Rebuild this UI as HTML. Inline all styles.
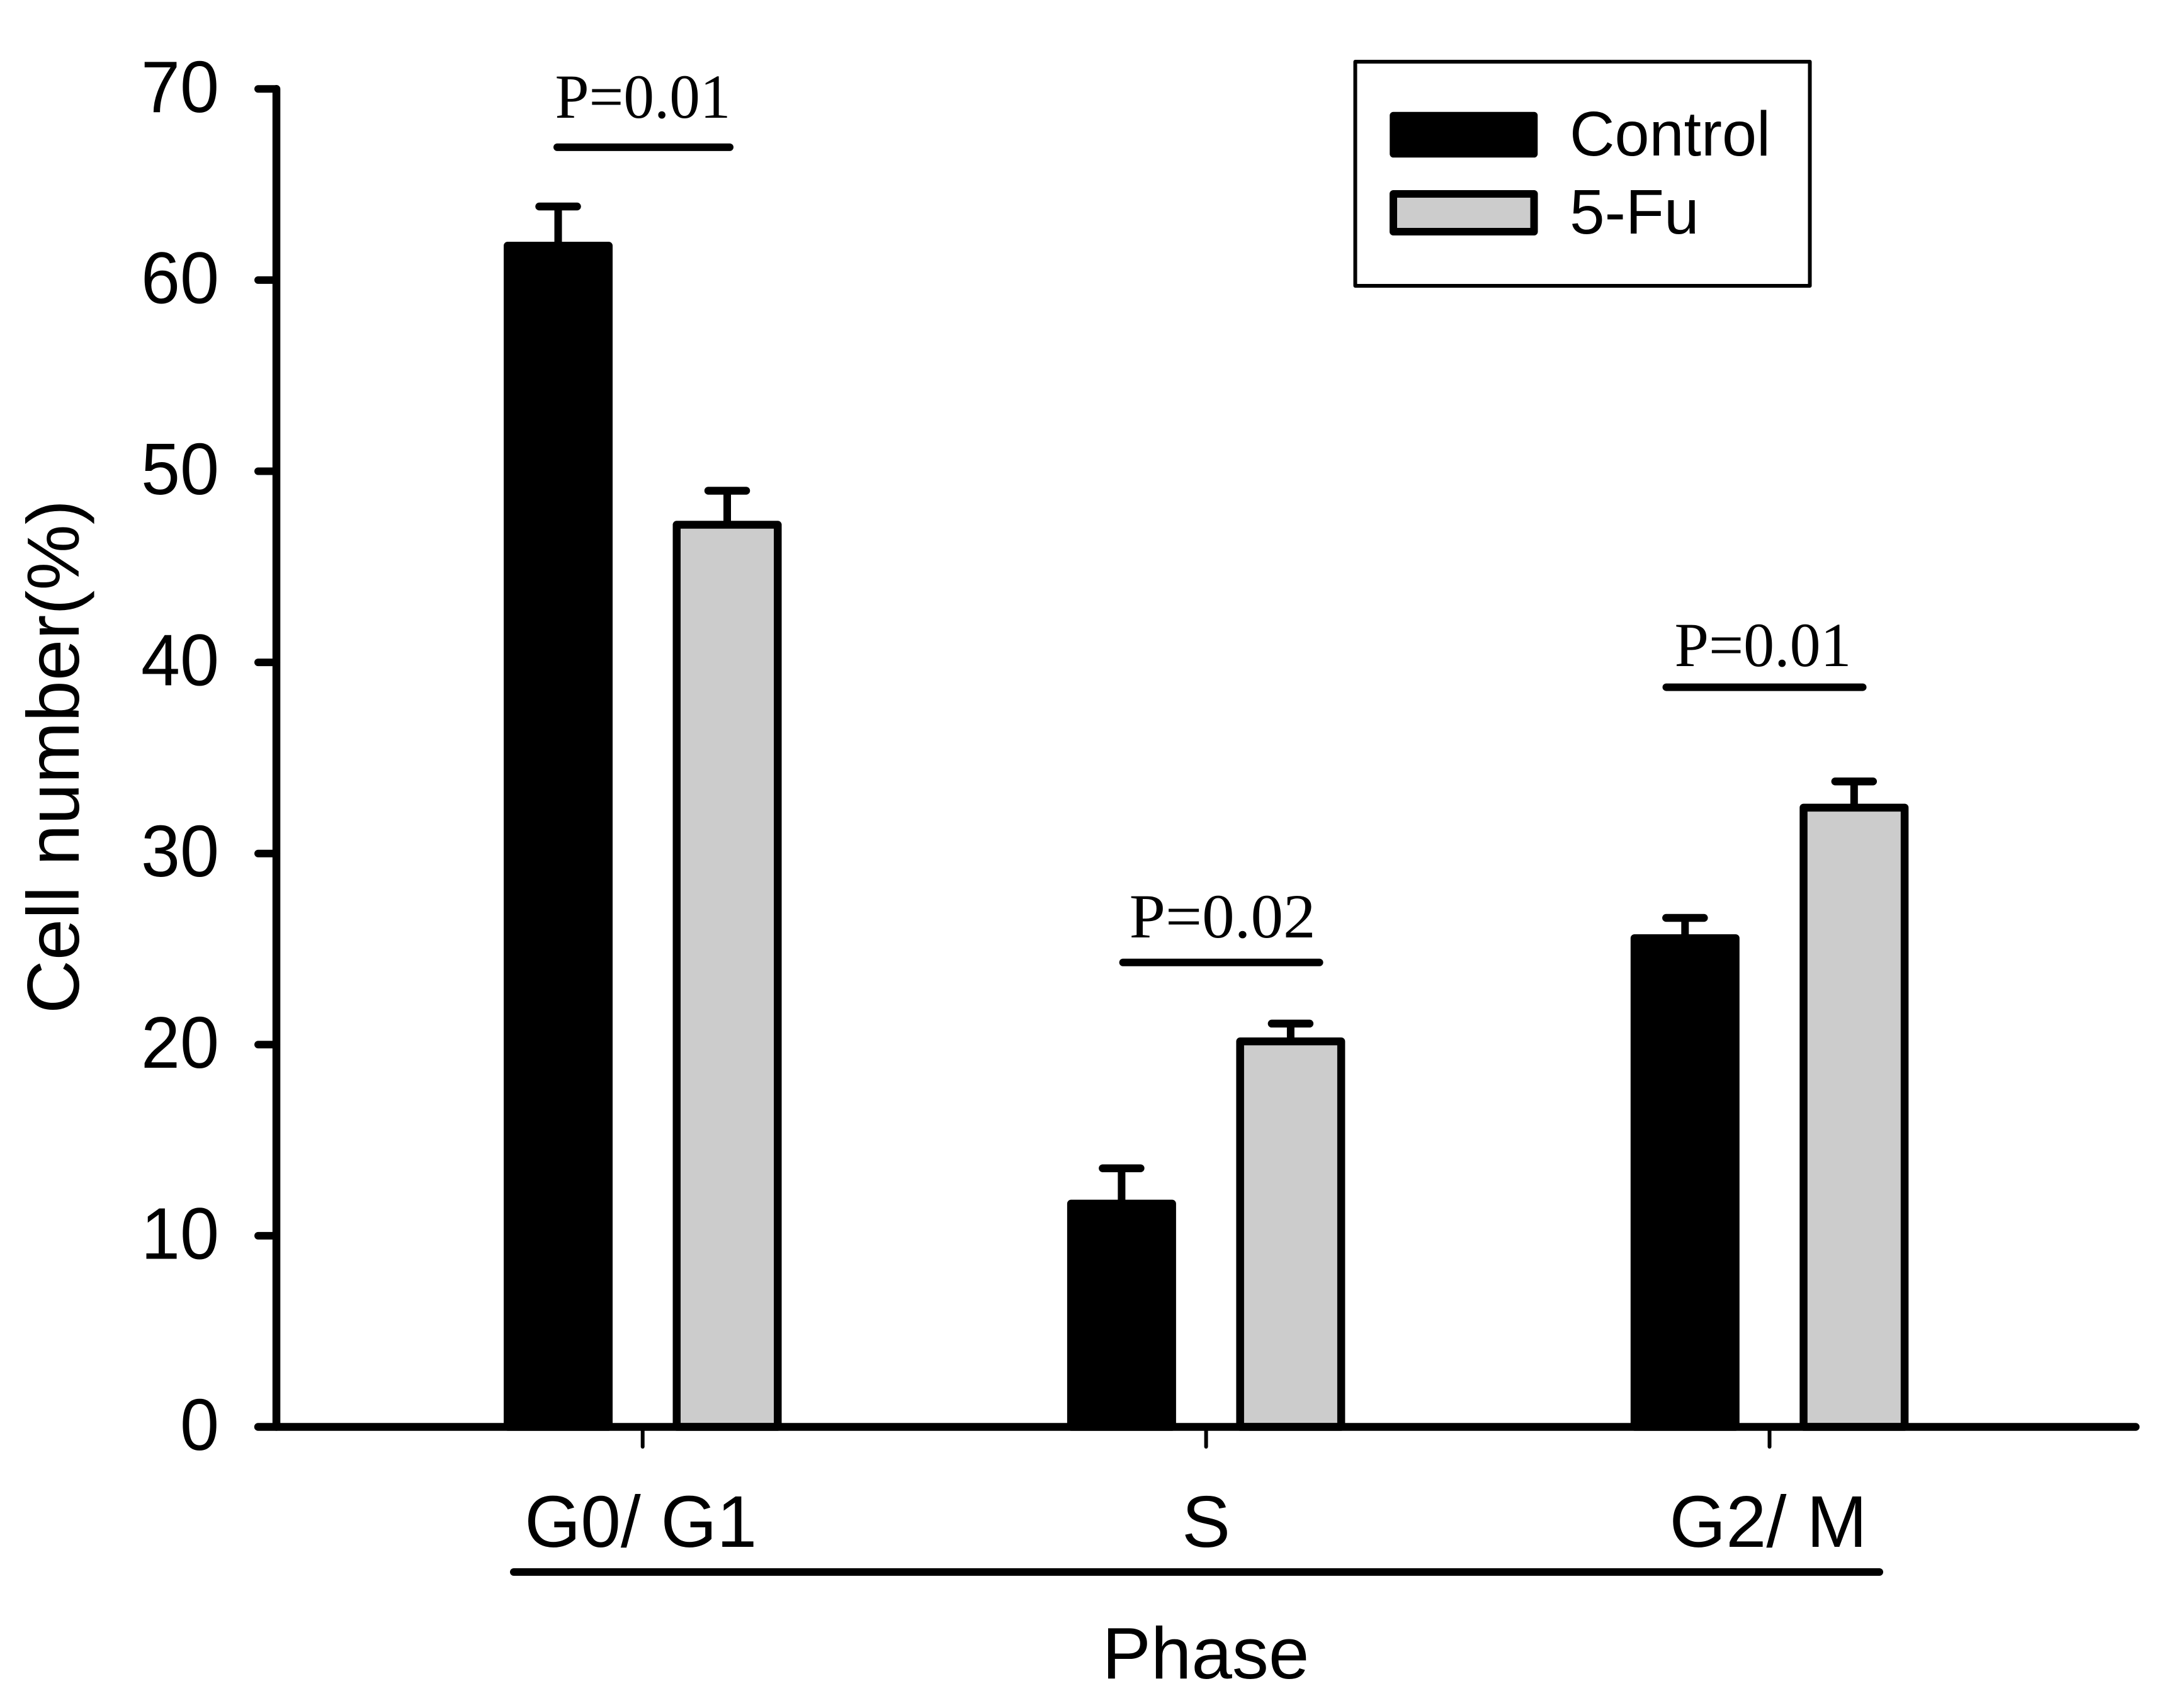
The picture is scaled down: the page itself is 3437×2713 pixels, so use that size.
<!DOCTYPE html>
<html lang="en">
<head>
<meta charset="utf-8">
<title>Cell number by phase</title>
<style>
html,body{margin:0;padding:0;background:#fff;width:3437px;height:2713px;overflow:hidden}
svg{display:block;position:absolute;left:0;top:0}
text{fill:#000;font-family:"Liberation Sans",sans-serif}
.serif{font-family:"Liberation Serif",serif;font-size:100px}
</style>
</head>
<body>
<svg id="chart" xmlns="http://www.w3.org/2000/svg" width="3437" height="2713" viewBox="0 0 3437 2713">
  <rect x="0" y="0" width="3437" height="2713" fill="#fff"/>
  <g id="bars"></g>
  <g id="axes"></g>
  <g id="annotations"></g>

  <text x="0" y="0" font-size="117" text-anchor="middle" textLength="816" lengthAdjust="spacingAndGlyphs" transform="translate(125,1202) rotate(-90)">Cell number(%)</text>

  <line x1="816" y1="2497" x2="2985" y2="2497" stroke="#000" stroke-width="12" stroke-linecap="round"/>
  <text x="1915" y="2666" font-size="116" text-anchor="middle">Phase</text>

  <g>
    <rect x="2152.5" y="98" width="722" height="356" fill="#fff" stroke="#000" stroke-width="6" stroke-linejoin="round"/>
    <rect x="2213" y="183.5" width="223.5" height="61" fill="#000" stroke="#000" stroke-width="11.5" stroke-linejoin="round"/>
    <text x="2493" y="247" font-size="100" textLength="319" lengthAdjust="spacingAndGlyphs">Control</text>
    <rect x="2213" y="308" width="223.5" height="60" fill="#cccccc" stroke="#000" stroke-width="12" stroke-linejoin="round"/>
    <text x="2493" y="371" font-size="100">5-Fu</text>
  </g>
</svg>
<script>
const categories = ["G0/ G1", "S", "G2/ M"];
const controlValues = [61.8, 11.68, 25.57];
const controlErrors = [2.05, 1.85, 1.06];
const fuValues = [47.2, 20.17, 32.4];
const fuErrors = [1.78, 0.93, 1.37];
const yTickValues = [0, 10, 20, 30, 40, 50, 60, 70];
const yTickLabels = ["0", "10", "20", "30", "40", "50", "60", "70"];
const pLabels = ["P=0.01", "P=0.02", "P=0.01"];
const pLineLevels = [66.95, 24.3, 38.7];
const pTextLevels = [68.5, 25.61, 39.8];

const NS = "http://www.w3.org/2000/svg";
function yScale(v) { return 2266.5 - v * 30.36; }
function xScale(i) { return 1020.7 + 894.9 * i; }

function makeLine(parent, x1, y1, x2, y2, w, cap) {
  const el = document.createElementNS(NS, "line");
  el.setAttribute("x1", x1);
  el.setAttribute("y1", y1);
  el.setAttribute("x2", x2);
  el.setAttribute("y2", y2);
  el.setAttribute("stroke", "#000");
  el.setAttribute("stroke-width", w);
  el.setAttribute("stroke-linecap", cap || "round");
  parent.appendChild(el);
  return el;
}
function makeText(parent, str, x, y, size, anchor, cls) {
  const el = document.createElementNS(NS, "text");
  el.setAttribute("x", x);
  el.setAttribute("y", y);
  if (size) el.setAttribute("font-size", size);
  el.setAttribute("text-anchor", anchor);
  if (cls) el.setAttribute("class", cls);
  el.textContent = str;
  parent.appendChild(el);
  return el;
}

const barsG = document.getElementById("bars");
const axesG = document.getElementById("axes");
const annG = document.getElementById("annotations");

function drawBar(i, value, err, offset, fill, seriesName) {
  const cx = xScale(i) + offset;
  const top = yScale(value);

  const stem = makeLine(barsG, cx, top, cx, yScale(value + err), 12, "butt");
  
  

  const cap = makeLine(barsG, cx - 30, yScale(value + err), cx + 30, yScale(value + err), 12.5, "round");
  
  

  const bar = document.createElementNS(NS, "rect");
  bar.setAttribute("x", cx - 80.25);
  bar.setAttribute("y", top);
  bar.setAttribute("width", 160.5);
  bar.setAttribute("height", yScale(0) - top);
  bar.setAttribute("fill", fill);
  bar.setAttribute("stroke", "#000");
  bar.setAttribute("stroke-width", 12.5);
  bar.setAttribute("stroke-linejoin", "round");
  
  
  bar.setAttribute("data-series", seriesName);
  barsG.appendChild(bar);
}

categories.forEach(function (name, i) {
  drawBar(i, controlValues[i], controlErrors[i], -134.2, "#000", "control");
  drawBar(i, fuValues[i], fuErrors[i], 134.3, "#cccccc", "5-fu");
});

const yAxis = makeLine(axesG, 439, yScale(70), 439, yScale(0), 12.5, "round");



const xAxis = makeLine(axesG, 410, yScale(0), 3392, yScale(0), 12.5, "round");



yTickValues.forEach(function (v, i) {
  const tick = makeLine(axesG, 410, yScale(v), 439, yScale(v), 12, "round");
  
  

  const label = makeText(axesG, yTickLabels[i], 348, yScale(v) + 36.5, 116, "end");
  label.setAttribute("textLength", 62 * yTickLabels[i].length);
  label.setAttribute("lengthAdjust", "spacingAndGlyphs");
  
  
});

function categoryLabelLayout(i) {
  if (i === 0) return { dx: -3, len: 369 };
  if (i === 1) return { dx: 0, len: 77 };
  return { dx: -2, len: 314 };
}

categories.forEach(function (name, i) {
  const tick = makeLine(axesG, xScale(i), yScale(0), xScale(i), 2298, 6, "round");
  
  

  const o = categoryLabelLayout(i);
  const label = makeText(axesG, name, xScale(i) + o.dx, 2457, 116, "middle");
  label.setAttribute("textLength", o.len);
  label.setAttribute("lengthAdjust", "spacingAndGlyphs");
  
  
});

function annotationOffset(i) {
  if (i === 0) return { dx: 1.3, half: 137, tdx: 0.3, len: 279 };
  if (i === 1) return { dx: 24, half: 156, tdx: 26, len: 296 };
  return { dx: -8, half: 156, tdx: -10.5, len: 281 };
}

pLabels.forEach(function (str, i) {
  const o = annotationOffset(i);
  const cx = xScale(i);
  const rule = makeLine(annG, cx + o.dx - o.half, yScale(pLineLevels[i]), cx + o.dx + o.half, yScale(pLineLevels[i]), 12, "round");
  
  

  const label = makeText(annG, str, cx + o.tdx, yScale(pTextLevels[i]), null, "middle", "serif");
  label.setAttribute("textLength", o.len);
  label.setAttribute("lengthAdjust", "spacingAndGlyphs");
  
  
});
</script>
</body>
</html>
